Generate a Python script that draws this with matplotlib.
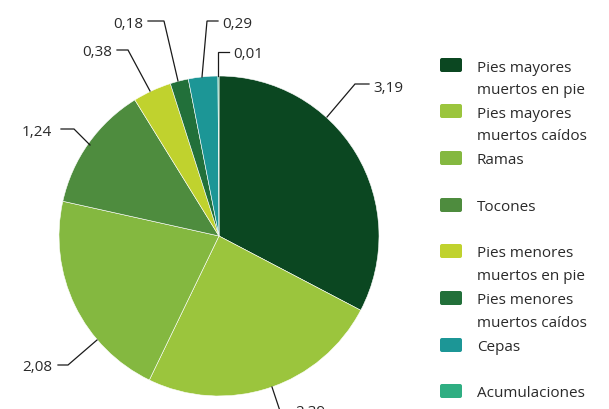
import matplotlib
matplotlib.use("Agg")
import matplotlib.pyplot as plt
from matplotlib.patches import FancyBboxPatch

plt.rcParams['font.family'] = ['Open Sans', 'DejaVu Sans']

# data
categories = ['Pies mayores\nmuertos en pie', 'Pies mayores\nmuertos caídos', 'Ramas', 'Tocones',
              'Pies menores\nmuertos en pie', 'Pies menores\nmuertos caídos', 'Cepas', 'Acumulaciones']
values = [3.19, 2.39, 2.08, 1.24, 0.38, 0.18, 0.29, 0.01]
value_labels = ['3,19', '2,39', '2,08', '1,24', '0,38', '0,18', '0,29', '0,01']
colors = ['#0b4721', '#9bc53d', '#84b840', '#4e8c3e', '#c0d22e', '#22703a', '#1c9696', '#2fae82']

# leader lines: (start, elbow, end, text pos, ha) in pixel coords
leaders = [
    [(327, 118), (355, 85), (369, 85), (373, 86), 'left'],
    [(272, 388), (280, 412), (290, 412), (295, 410.5), 'left'],
    [(97, 341), (68, 366), (58, 366), (52, 366), 'right'],
    [(90, 146), (74, 130), (61, 130), (52, 131), 'right'],
    [(150, 92), (128, 51), (117, 51), (112, 51), 'right'],
    [(178, 82), (164, 22), (148, 22), (143, 22), 'right'],
    [(202, 78), (207, 22), (218, 22), (222, 22), 'left'],
    [(218, 77), (218, 53), (229, 53), (233, 52), 'left'],
]

fig = plt.figure(figsize=(6.09, 4.10), dpi=100)
ax = fig.add_axes([0, 0, 1, 1])

# y axis is flipped below, so start at -90 and go counterclockwise in data
ax.pie(values, colors=colors, startangle=-90, counterclock=True,
       center=(219, 237), radius=160,
       wedgeprops=dict(edgecolor='white', linewidth=0.4))
ax.set_xlim(0, 609)
ax.set_ylim(410, 0)
ax.set_aspect('equal')
ax.axis('off')

txt_color = '#2a2a2a'
for lab, (p0, p1, p2, pt, ha) in zip(value_labels, leaders):
    ax.plot([p0[0], p1[0], p2[0]], [p0[1], p1[1], p2[1]], color='#1a1a1a', lw=0.9,
            solid_joinstyle='miter', clip_on=False)
    ax.text(pt[0], pt[1] + 5.5, lab, ha=ha, va='baseline', fontsize=11, color=txt_color)

# legend
leg_y = [66, 112, 159, 206, 252, 299, 346, 392]
for name, c, y in zip(categories, colors, leg_y):
    ax.add_patch(FancyBboxPatch((440, y - 7), 22, 14, boxstyle='round,pad=0,rounding_size=2',
                                facecolor=c, edgecolor='none'))
    for i, line in enumerate(name.split('\n')):
        ax.text(477, y + 5.5 + i * 23, line, ha='left', va='baseline', fontsize=11,
                color=txt_color)

fig.savefig('out.png', dpi=100)
